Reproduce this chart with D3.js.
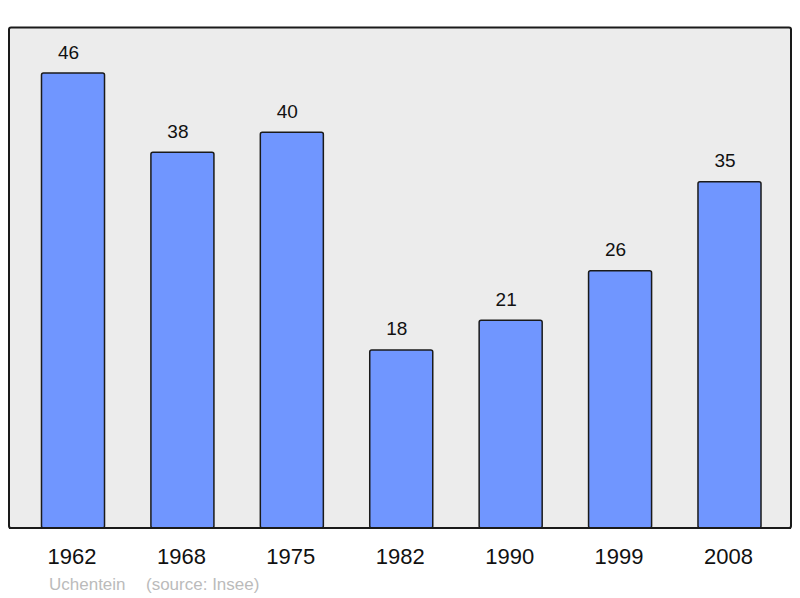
<!doctype html>
<html lang="fr">
<head>
<meta charset="utf-8" />
<title>Population - Uchentein</title>
<script src="https://d3js.org/d3.v7.min.js"></script>
<style>
  html, body { margin: 0; padding: 0; background: #fff; }
  svg { display: block; }
</style>
</head>
<body>
<script>
// data
var years = ["1962", "1968", "1975", "1982", "1990", "1999", "2008"];
var population = [46, 38, 40, 18, 21, 26, 35];
var townName = "Uchentein";
var sourceText = "(source: Insee)";

var w = 800, h = 598;
var frame = { left: 9, top: 27.5, right: 791, bottom: 528 };
var font = "Liberation Sans, Arial, sans-serif";

var svg = d3.select("body").append("svg")
  .attr("width", w)
  .attr("height", h);

// background frame
svg.append("rect")
  .attr("x", frame.left)
  .attr("y", frame.top)
  .attr("width", frame.right - frame.left)
  .attr("height", frame.bottom - frame.top)
  .attr("rx", 2)
  .attr("fill", "#ececec")
  .attr("stroke", "#1a1a1a")
  .attr("stroke-width", 2);

var x = d3.scaleBand()
  .domain(years)
  .range([18.3, 784.2])
  .paddingInner(0.424)
  .paddingOuter(0.212);

var y = d3.scaleLinear()
  .domain([0, 46])
  .range([frame.bottom, 73]);

var rows = years.map(function(yr, i) { return { year: yr, value: population[i] }; });

svg.selectAll(".bar")
  .data(rows)
  .enter()
  .append("rect")
  .attr("class", "bar")
  .attr("x", function(d) { return x(d.year); })
  .attr("y", function(d) { return y(d.value); })
  .attr("width", x.bandwidth())
  .attr("height", function(d) { return frame.bottom - y(d.value); })
  .attr("rx", 2)
  .attr("fill", "#7096ff")
  .attr("stroke", "#1a1a1a")
  .attr("stroke-width", 1.5);

// value labels above the bars (sit a little left of centre, like the original)
svg.selectAll(".value")
  .data(rows)
  .enter()
  .append("text")
  .attr("class", "value")
  .attr("x", function(d) { return x(d.year) + x.bandwidth() / 2 - 4.5; })
  .attr("y", function(d) { return y(d.value) - 14.5; })
  .attr("text-anchor", "middle")
  .attr("font-family", font)
  .attr("font-size", "19px")
  .attr("fill", "#111")
  .text(function(d) { return d.value; });

// frame bottom edge on top of the bars
svg.append("line")
  .attr("x1", frame.left).attr("x2", frame.right)
  .attr("y1", frame.bottom).attr("y2", frame.bottom)
  .attr("stroke", "#1a1a1a")
  .attr("stroke-width", 2);

// year labels
svg.selectAll(".year")
  .data(years)
  .enter()
  .append("text")
  .attr("class", "year")
  .attr("x", function(d) { return x(d) + x.bandwidth() / 2 - 1; })
  .attr("y", 564)
  .attr("text-anchor", "middle")
  .attr("font-family", font)
  .attr("font-size", "22px")
  .attr("fill", "#111")
  .text(function(d) { return d; });

svg.append("text")
  .attr("x", 49)
  .attr("y", 590)
  .attr("font-family", font)
  .attr("font-size", "17px")
  .attr("fill", "#bbbbbb")
  .text(townName);

svg.append("text")
  .attr("x", 146)
  .attr("y", 590)
  .attr("font-family", font)
  .attr("font-size", "17px")
  .attr("fill", "#bbbbbb")
  .text(sourceText);
</script>
</body>
</html>
